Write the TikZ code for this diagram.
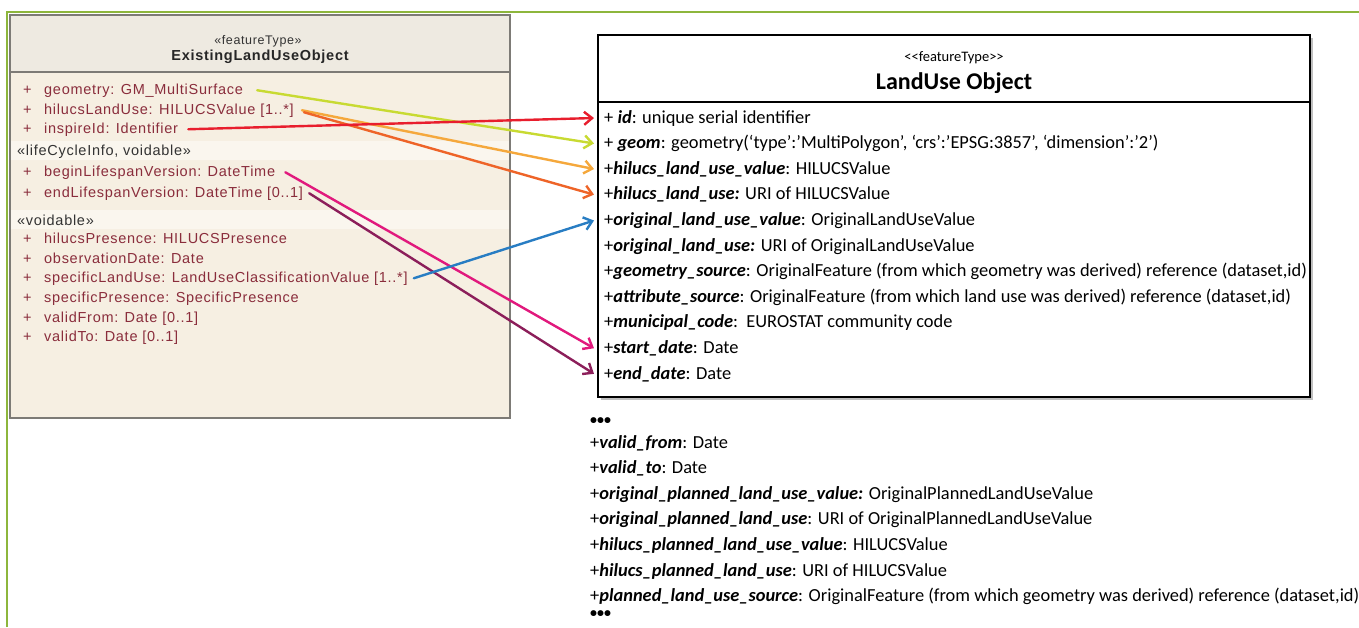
\documentclass[tikz,border=0pt]{standalone}
\usepackage{fontspec}
\setmainfont{Carlito}
\newfontfamily\umlsans[LetterSpace=5]{Liberation Sans}
\usetikzlibrary{arrows.meta}
\definecolor{framegreen}{RGB}{141,182,60}
\definecolor{attrred}{RGB}{138,45,60}
\definecolor{boxbeige}{RGB}{246,239,226}
\definecolor{headbeige}{RGB}{238,234,225}
\definecolor{bandbeige}{RGB}{250,246,238}
\definecolor{boxgray}{RGB}{125,123,118}
\definecolor{arrred}{RGB}{232,30,45}
\definecolor{arrlime}{RGB}{200,218,50}
\definecolor{arrpeach}{RGB}{245,168,60}
\definecolor{arrorange}{RGB}{238,100,40}
\definecolor{arrblue}{RGB}{40,125,195}
\definecolor{arrpink}{RGB}{225,25,125}
\definecolor{arrplum}{RGB}{140,30,90}
\newcommand{\fld}[1]{{\bfseries\itshape #1}}
\begin{document}
\begin{tikzpicture}[x=1pt, y=-1pt, >={Straight Barb[length=8pt,width=13pt]},
    lrow/.style={anchor=base west, inner sep=0pt, text=attrred, font=\umlsans\fontsize{14.5}{17}\selectfont},
    lsec/.style={lrow, text=black!80},
    rrow/.style={anchor=base west, inner xsep=6pt, inner ysep=0pt, font=\fontsize{18.4}{21}\selectfont},
    dots/.style={rrow, font=\bfseries\fontsize{14}{16}\selectfont},
    link/.style={->, line width=2.4pt, line cap=round, line join=round}]
  \useasboundingbox (0,0) rectangle (1359,627);
  % outer frame
  \draw[framegreen, line width=2pt] (7,627) -- (7,12) -- (1359,12);
  % existing land use class
  \fill[boxbeige] (10,15) rectangle (510,418);
  \fill[headbeige] (10,15) rectangle (510,72);
  \fill[bandbeige] (10,141) rectangle (510,160) (10,210) rectangle (510,229);
  \draw[boxgray, line width=2.5pt] (10,15) rectangle (510,418) (10,72) -- (510,72);
  \node[font=\umlsans\fontsize{12.5}{14}\selectfont, text=black!80] (lStereo) at (258,41) {«featureType»};
  \node[font=\umlsans\bfseries\fontsize{14.5}{17}\selectfont, text=black!85] (lName) at (260,57) {ExistingLandUseObject};
  \node[lsec] (lLife) at (17,155) {«lifeCycleInfo, voidable»};
  \node[lsec] (lVoid) at (17,225) {«voidable»};
  \foreach \nm/\yy/\txt in {lGeometry/94/{geometry: GM\_MultiSurface},
      lHilucs/114/{hilucsLandUse: HILUCSValue [1..*]},
      lInspire/133/{inspireId: Identifier},
      lBegin/176/{beginLifespanVersion: DateTime},
      lEnd/197/{endLifespanVersion: DateTime [0..1]},
      lPresence/243/{hilucsPresence: HILUCSPresence},
      lObserved/263/{observationDate: Date},
      lSpecific/282/{specificLandUse: LandUseClassificationValue [1..*]},
      lSpecPres/302/{specificPresence: SpecificPresence},
      lFrom/322/{validFrom: Date [0..1]},
      lTo/341/{validTo: Date [0..1]}}{
    \node[lrow] at (23,\yy) {+};
    \node[lrow] (\nm) at (44,\yy) {\txt};
  }
  % land use object class
  \fill[black!25] (601,38) rectangle (1313,400);
  \draw[line width=2.5pt, fill=white] (598,35) rectangle (1310,397);
  \draw[line width=2pt] (598,102) -- (1310,102);
  \node[font=\fontsize{14.5}{16}\selectfont] (rStereo) at (954,58) {<{}<featureType>{}>};
  \node[font=\bfseries\fontsize{24}{28}\selectfont] (rName) at (954,83) {LandUse Object};
  \foreach \nm/\i/\txt in {rId/0/{+ \fld{id}: unique serial identifier},
      rGeom/1/{+ \fld{geom}: geometry(‘type’:’MultiPolygon’, ‘crs’:’EPSG:3857’, ‘dimension’:’2’)},
      rHilucsVal/2/{+\fld{hilucs\_land\_use\_value}: HILUCSValue},
      rHilucs/3/{+\fld{hilucs\_land\_use:} URI of HILUCSValue},
      rOrigVal/4/{+\fld{original\_land\_use\_value}: OriginalLandUseValue},
      rOrig/5/{+\fld{original\_land\_use:} URI of OriginalLandUseValue},
      rGeomSrc/6/{+\fld{geometry\_source}: OriginalFeature (from which geometry was derived) reference (dataset,id)},
      rAttrSrc/7/{+\fld{attribute\_source}: OriginalFeature (from which land use was derived) reference (dataset,id)},
      rMunicipal/8/{+\fld{municipal\_code}:\ \ EUROSTAT community code},
      rStart/9/{+\fld{start\_date}: Date},
      rEnd/10/{+\fld{end\_date}: Date}}{
    \node[rrow] (\nm) at (598,{123+25.6*\i}) {\txt};
  }
  % planned land use fields below
  \node[dots] (dotsTop) at (584,424) {•••};
  \foreach \nm/\i/\txt in {pFrom/0/{+\fld{valid\_from}: Date},
      pTo/1/{+\fld{valid\_to}: Date},
      pOrigVal/2/{+\fld{original\_planned\_land\_use\_value:} OriginalPlannedLandUseValue},
      pOrig/3/{+\fld{original\_planned\_land\_use}: URI of OriginalPlannedLandUseValue},
      pHilucsVal/4/{+\fld{hilucs\_planned\_land\_use\_value}: HILUCSValue},
      pHilucs/5/{+\fld{hilucs\_planned\_land\_use}: URI of HILUCSValue},
      pSource/6/{+\fld{planned\_land\_use\_source}: OriginalFeature (from which geometry was derived) reference (dataset,id)}}{
    \node[rrow] (\nm) at (584,{448+25.6*\i}) {\txt};
  }
  \node[dots] (dotsEnd) at (584,617) {•••};
  % mappings
  \draw[link, arrlime] ([xshift=14pt]lGeometry.east) -- ([xshift=-4pt]rGeom.west);
  \draw[link, arrpeach] ([xshift=8pt]lHilucs.east) -- ([xshift=-4pt]rHilucsVal.west);
  \draw[link, arrorange] ([xshift=10pt,yshift=-2pt]lHilucs.east) -- ([xshift=-4pt]rHilucs.west);
  \draw[link, arrred] ([xshift=10pt]lInspire.east) -- ([xshift=-4pt]rId.west);
  \draw[link, arrpink] ([xshift=10pt]lBegin.east) -- ([xshift=-4pt]rStart.west);
  \draw[link, arrplum] ([xshift=6pt]lEnd.east) -- ([xshift=-4pt]rEnd.west);
  \draw[link, arrblue] ([xshift=6pt]lSpecific.east) -- ([xshift=-4pt]rOrigVal.west);
\end{tikzpicture}
\end{document}
